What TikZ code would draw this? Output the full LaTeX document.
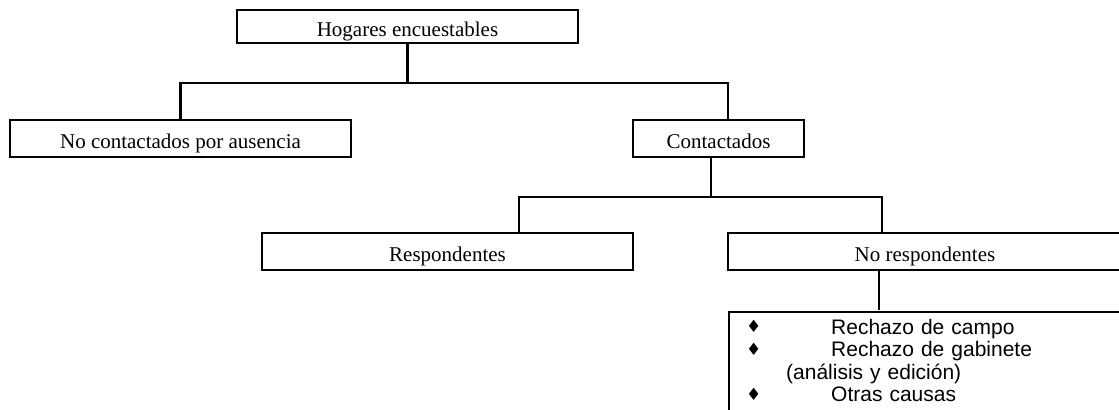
\documentclass[tikz,border=0pt]{standalone}
\usepackage{fontspec}
\setmainfont{Liberation Serif}
\newfontfamily\listfont{Liberation Sans}
\newfontfamily\bulfont{DejaVu Sans}
\usetikzlibrary{positioning}

% bullet of the list, in a box as wide as the indent
\newcommand{\bul}{\makebox[42.5pt][l]{\raisebox{0.6pt}{\bulfont\fontsize{8.5pt}{8.5pt}\selectfont ♦}}}

\begin{document}
\begin{tikzpicture}[%
    x=0.5pt, y=-0.5pt,
    line width=1.2pt,
    box/.style={draw, rectangle, inner sep=0pt, minimum height=18.5pt,
      text height=9.8pt, text depth=0pt,
      font=\fontsize{10.5pt}{12pt}\selectfont},
    listbox/.style={draw, rectangle, anchor=north west, align=left,
      inner xsep=8.5pt, inner ysep=3.35pt, text width=180pt,
      font=\listfont\fontsize{10.5pt}{11.3pt}\selectfont}
  ]
    \useasboundingbox (0,0) rectangle (1119,410);
    \clip (0,0) rectangle (1119,410);

    \node[box, minimum width=170.5pt, minimum height=16.5pt] (hogares) at (407.5,26.5) {Hogares encuestables};

    \node[box, minimum width=170.5pt] (nocontact) at (180.5,138.5) {No contactados por ausencia};
    \node[box, minimum width=85.5pt] (contact) at (718.5,138.5) {Contactados};

    \node[box, minimum width=185.5pt] (resp) at (447.5,251.5) {Respondentes};
    \node[box, minimum width=197pt] (noresp) at (925,251.5) {No respondentes};

    \node[listbox] (causas) at (728,311) {%
      \bul Rechazo de campo\\
      \bul Rechazo de gabinete\\
      \hspace*{20pt}(análisis y edición)\\
      \bul Otras causas\\[30pt]
      \mbox{}};

    % connectors
    \draw (hogares.south) -- ++(0,39) coordinate (bus1);
    \draw (nocontact.north) |- (bus1) -| ([xshift=4.75pt]contact.north);

    \draw ([xshift=-3.75pt]contact.south) -- ++(0,39) coordinate (bus2);
    \draw ([xshift=35.75pt]resp.north) |- (bus2) -| ([xshift=-21.5pt]noresp.north);

    \draw ([xshift=-23pt]noresp.south) -- ++(0,39);
\end{tikzpicture}
\end{document}
